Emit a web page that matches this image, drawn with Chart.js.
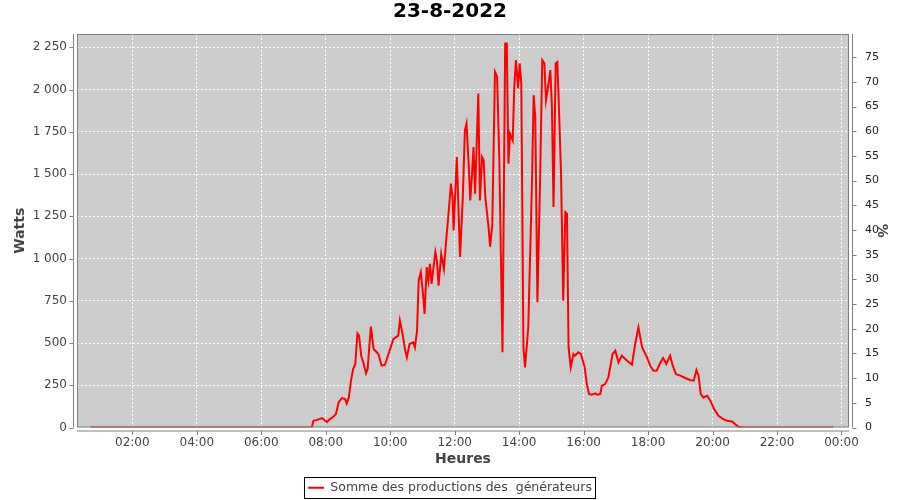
<!DOCTYPE html>
<html>
<head>
<meta charset="utf-8">
<title>23-8-2022</title>
<script src="https://cdn.jsdelivr.net/npm/chart.js@4.4.0/dist/chart.umd.min.js"></script>
<style>
  html, body { margin: 0; padding: 0; background: #fff; }
</style>
</head>
<body>
<canvas id="production-chart" width="900" height="500"></canvas>
<script>
// Relevés de la journée (heure, puissance en W)
const times = [
  '00:42','01:30','02:30','03:30','04:30','05:30','06:30','07:00','07:34','07:37',
  '07:44','07:53','08:02','08:08','08:14','08:19','08:24','08:30','08:36','08:39',
  '08:43','08:47','08:51','08:55','08:59','09:02','09:06','09:10','09:15','09:18',
  '09:21','09:24','09:29','09:35','09:38','09:44','09:50','10:00','10:06','10:15',
  '10:18','10:23','10:28','10:31','10:36','10:43','10:46','10:50','10:53','10:57',
  '11:01','11:04','11:08','11:11','11:14','11:17','11:24','11:27','11:30','11:35',
  '11:40','11:44','11:48','11:53','11:56','11:58','12:04','12:07','12:10','12:15',
  '12:19','12:22','12:26','12:29','12:32','12:35','12:38','12:44','12:47','12:51',
  '12:54','12:57','13:03','13:06','13:10','13:15','13:19','13:23','13:29','13:34',
  '13:37','13:40','13:43','13:48','13:51','13:54','13:58','14:01','14:04','14:08',
  '14:11','14:17','14:24','14:27','14:30','14:34','14:39','14:43','14:47','14:50',
  '14:53','14:58','15:01','15:04','15:08','15:11','15:13','15:18','15:22','15:26',
  '15:29','15:32','15:36','15:41','15:44','15:50','15:55','16:02','16:06','16:10',
  '16:15','16:22','16:25','16:31','16:34','16:40','16:46','16:54','16:59','17:05',
  '17:11','17:21','17:30','17:36','17:42','17:49','17:58','18:04','18:10','18:16',
  '18:23','18:28','18:34','18:41','18:46','18:52','19:00','19:09','19:18','19:25',
  '19:30','19:34','19:38','19:43','19:50','19:56','20:03','20:11','20:20','20:27',
  '20:36','20:42','20:48','21:00','22:00','23:00','23:45'
];
const watts = [
  0, 0, 0, 0, 0, 0, 0, 0, 0, 40,
  45, 56, 32, 50, 63, 80, 148, 174, 168, 142,
  178, 277, 346, 376, 557, 544, 425, 385, 320, 346,
  474, 597, 465, 445, 435, 366, 370, 465, 524, 544,
  633, 554, 455, 415, 494, 504, 474, 573, 870, 919,
  791, 672, 949, 870, 969, 850, 1038, 988, 840, 1028,
  939, 1100, 1245, 1443, 1364, 1166, 1601, 1300, 1010, 1350,
  1759, 1799, 1562, 1344, 1482, 1660, 1384, 1977, 1344, 1601,
  1582, 1364, 1186, 1070, 1200, 2105, 2076, 1600, 445, 2273,
  2273, 1562, 1740, 1700, 2016, 2175, 2007, 2155, 2036, 474,
  356, 593, 1463, 1967, 1838, 741, 1463, 2175, 2155, 1937,
  1997, 2115, 1898, 1305, 2155, 2164, 1997, 1503, 751, 1275,
  1265, 474, 356, 435, 425, 445, 435, 356, 257, 198,
  194, 202, 194, 198, 247, 257, 297, 435, 455, 385,
  425, 395, 372, 494, 593, 474, 415, 366, 336, 336,
  385, 411, 376, 425, 366, 316, 307, 293, 281, 277,
  340, 307, 198, 178, 188, 158, 109, 69, 50, 40,
  36, 20, 4, 0, 0, 0, 0
];

// Graduations des axes
const hourTicks = [120, 240, 360, 480, 600, 720, 840, 960, 1080, 1200, 1320, 1440]; // minutes
const wattTicks = [0, 250, 500, 750, 1000, 1250, 1500, 1750, 2000, 2250];
const pctTicks  = [0, 5, 10, 15, 20, 25, 30, 35, 40, 45, 50, 55, 60, 65, 70, 75];

const FONT = 'DejaVu Sans';

const toMinutes = t => {
  const [h, m] = t.split(':').map(Number);
  return h * 60 + m;
};

const fmtWatts = v => v >= 1000
  ? Math.floor(v / 1000) + ' ' + String(v % 1000).padStart(3, '0')
  : String(v);

const fmtHour = v => String(Math.round(v / 60) % 24).padStart(2, '0') + ':00';

// fond gris, cadre, axes décalés et boîte de légende (style JFreeChart)
const plotFrame = {
  id: 'plotFrame',
  afterLayout(chart) {
    chart.legend.top += 4;
    chart.legend.bottom += 4;
  },
  beforeDraw(chart) {
    const { ctx, chartArea: a } = chart;
    ctx.save();
    ctx.fillStyle = '#cccccc';
    ctx.fillRect(a.left, a.top, a.right - a.left, a.bottom - a.top);
    ctx.restore();
  },
  afterDraw(chart) {
    const { ctx, chartArea: a, scales } = chart;
    ctx.save();
    ctx.strokeStyle = '#808080';
    ctx.lineWidth = 1;
    ctx.strokeRect(a.left + 0.5, a.top + 0.5, a.right - a.left - 1, a.bottom - a.top - 1);

    const lx = a.left - 4 + 0.5;
    const rx = a.right + 4 - 0.5;
    const by = a.bottom + 4 - 0.5;
    ctx.beginPath();
    ctx.moveTo(lx, a.top); ctx.lineTo(lx, a.bottom);
    ctx.moveTo(rx, a.top); ctx.lineTo(rx, a.bottom);
    ctx.moveTo(a.left, by); ctx.lineTo(a.right, by);
    scales.y.ticks.forEach(t => {
      const y = Math.round(scales.y.getPixelForValue(t.value)) + 0.5;
      ctx.moveTo(lx - 4, y); ctx.lineTo(lx, y);
    });
    scales.y1.ticks.forEach(t => {
      const y = Math.round(scales.y1.getPixelForValue(t.value)) + 0.5;
      ctx.moveTo(rx, y); ctx.lineTo(rx + 4, y);
    });
    scales.x.ticks.forEach(t => {
      const x = Math.round(scales.x.getPixelForValue(t.value)) + 0.5;
      ctx.moveTo(x, by); ctx.lineTo(x, by + 4);
    });
    ctx.stroke();

    const hb = chart.legend.legendHitBoxes[0];
    if (hb) {
      ctx.strokeStyle = '#000';
      ctx.strokeRect(Math.round(hb.left) - 3.5, Math.round(hb.top) - 4.5,
                     Math.round(hb.width) + 7, Math.round(hb.height) + 8);
    }
    ctx.restore();
  }
};

new Chart(document.getElementById('production-chart'), {
  type: 'line',
  data: {
    datasets: [{
      label: 'Somme des productions des  générateurs',
      data: times.map((t, i) => ({ x: toMinutes(t), y: watts[i] })),
      borderColor: '#ff0000',
      backgroundColor: '#ff0000',
      borderWidth: 2,
      pointRadius: 0,
      tension: 0,
      yAxisID: 'y'
    }]
  },
  options: {
    responsive: false,
    animation: false,
    devicePixelRatio: 1,
    layout: { padding: 0 },
    plugins: {
      title: {
        display: true,
        text: '23-8-2022',
        color: '#000',
        font: { family: FONT, size: 20, weight: 'bold' },
        padding: { top: 0, bottom: 10 }
      },
      legend: {
        position: 'bottom',
        labels: {
          usePointStyle: true,
          pointStyle: 'line',
          pointStyleWidth: 16,
          color: '#444',
          font: { family: FONT, size: 12.5 },
          padding: 10
        }
      },
      tooltip: { enabled: false }
    },
    scales: {
      x: {
        type: 'linear',
        min: 17,
        max: 1454,
        afterBuildTicks: s => { s.ticks = hourTicks.map(v => ({ value: v })); },
        afterFit: s => { s.height = 40; },
        grid: { color: '#ffffff', lineWidth: 1, drawTicks: false },
        border: { display: false, dash: [2, 2] },
        ticks: {
          callback: v => fmtHour(v),
          color: '#444',
          font: { family: FONT, size: 12 },
          padding: 8,
          maxRotation: 0
        },
        title: {
          display: true,
          text: 'Heures',
          color: '#444',
          font: { family: FONT, size: 14, weight: 'bold' },
          padding: { top: 0, bottom: 0 }
        }
      },
      y: {
        position: 'left',
        min: 0,
        max: 2329,
        afterBuildTicks: s => { s.ticks = wattTicks.map(v => ({ value: v })); },
        afterFit: s => { s.width = 77; },
        grid: { color: '#ffffff', lineWidth: 1, drawTicks: false },
        border: { display: false, dash: [2, 2] },
        ticks: {
          callback: v => fmtWatts(v),
          color: '#444',
          font: { family: FONT, size: 12 },
          padding: 10
        },
        title: {
          display: true,
          text: 'Watts',
          color: '#444',
          font: { family: FONT, size: 14, weight: 'bold' },
          padding: { top: 12 }
        }
      },
      y1: {
        position: 'right',
        min: 0,
        max: 79.7,
        afterBuildTicks: s => { s.ticks = pctTicks.map(v => ({ value: v })); },
        afterFit: s => { s.width = 51; },
        grid: { display: false, drawOnChartArea: false },
        border: { display: false },
        ticks: {
          color: '#222',
          font: { family: FONT, size: 11 },
          padding: 8
        },
        title: {
          display: true,
          text: '%',
          color: '#444',
          font: { family: FONT, size: 14, weight: 'bold' },
          padding: { top: 10 }
        }
      }
    }
  },
  plugins: [plotFrame]
});
</script>
</body>
</html>
